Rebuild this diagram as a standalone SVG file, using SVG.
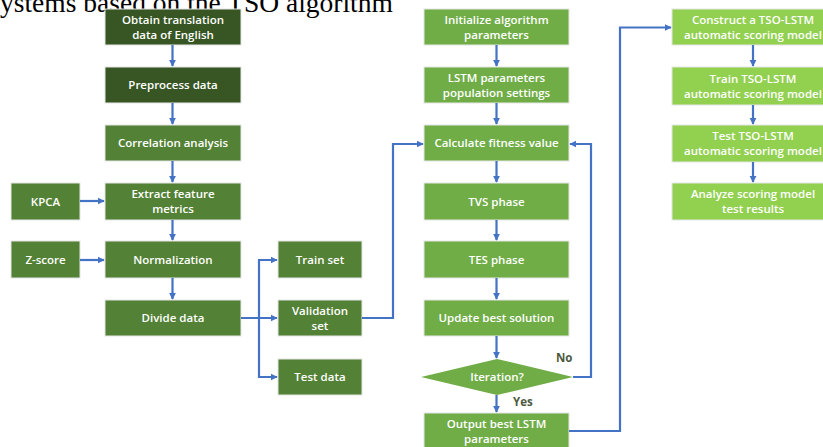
<svg xmlns="http://www.w3.org/2000/svg" width="823" height="447" viewBox="0 0 823 447">
  <defs>
    <marker id="arrow" viewBox="0 0 10 10" refX="9" refY="5" markerWidth="3.2" markerHeight="3.2" orient="auto" markerUnits="strokeWidth">
      <path d="M0,0 L10,5 L0,10 z" fill="#4472c4"/>
    </marker>
    <style>
      .box { stroke: #e6e6e6; stroke-width: 1; }
      .dark { fill: #375623; }
      .mid { fill: #538135; }
      .light { fill: #70ad47; }
      .lime { fill: #92d050; }
      .lbl { font-family: "Open Sans", "Noto Sans", sans-serif; font-size: 11.5px; font-weight: 600; fill: #ffffff; text-anchor: middle; }
      .cond { font-family: "Open Sans", "Noto Sans", sans-serif; font-size: 11.5px; font-weight: 700; fill: #4d5a40; }
      .conn { fill: none; stroke: #4472c4; stroke-width: 2.2; }
      .title { font-family: "Liberation Serif", "Times New Roman", serif; font-size: 27.5px; fill: #000000; }
    </style>
  </defs>

  <rect width="823" height="447" fill="#ffffff"/>

  <text class="title" x="-10.7" y="12">systems based on the TSO algorithm</text>

  <!-- data preparation column -->
  <g id="obtain"><rect class="box dark" x="105" y="9" width="136" height="36"/><text class="lbl" x="173" y="24">Obtain translation</text><text class="lbl" x="173" y="39">data of English</text></g>
  <g id="preprocess"><rect class="box dark" x="105" y="67" width="136" height="36"/><text class="lbl" x="173" y="89">Preprocess data</text></g>
  <g id="correlation"><rect class="box mid" x="105" y="125" width="136" height="36"/><text class="lbl" x="173" y="147">Correlation analysis</text></g>
  <g id="extract"><rect class="box mid" x="105" y="183" width="136" height="37"/><text class="lbl" x="173" y="198">Extract feature</text><text class="lbl" x="173" y="213">metrics</text></g>
  <g id="normalization"><rect class="box mid" x="105" y="241" width="136" height="37"/><text class="lbl" x="173" y="264">Normalization</text></g>
  <g id="divide"><rect class="box mid" x="105" y="300" width="136" height="36"/><text class="lbl" x="173" y="322">Divide data</text></g>
  <g id="kpca"><rect class="box mid" x="11" y="183" width="69" height="37"/><text class="lbl" x="45.5" y="206">KPCA</text></g>
  <g id="zscore"><rect class="box mid" x="11" y="241" width="69" height="37"/><text class="lbl" x="45.5" y="264">Z-score</text></g>

  <!-- data sets -->
  <g id="train-set"><rect class="box mid" x="278" y="241" width="84" height="37"/><text class="lbl" x="320" y="264">Train set</text></g>
  <g id="validation-set"><rect class="box mid" x="278" y="300" width="84" height="36"/><text class="lbl" x="320" y="315">Validation</text><text class="lbl" x="320" y="330">set</text></g>
  <g id="test-data"><rect class="box mid" x="278" y="359" width="84" height="36"/><text class="lbl" x="320" y="381">Test data</text></g>

  <!-- TSO optimisation column -->
  <g id="init"><rect class="box light" x="424" y="9" width="145" height="36"/><text class="lbl" x="496.5" y="24">Initialize algorithm</text><text class="lbl" x="496.5" y="39">parameters</text></g>
  <g id="population"><rect class="box light" x="424" y="67" width="145" height="36"/><text class="lbl" x="496.5" y="82">LSTM parameters</text><text class="lbl" x="496.5" y="97">population settings</text></g>
  <g id="fitness"><rect class="box light" x="424" y="125" width="145" height="36"/><text class="lbl" x="496.5" y="147">Calculate fitness value</text></g>
  <g id="tvs"><rect class="box light" x="424" y="183" width="145" height="37"/><text class="lbl" x="496.5" y="206">TVS phase</text></g>
  <g id="tes"><rect class="box light" x="424" y="241" width="145" height="37"/><text class="lbl" x="496.5" y="264">TES phase</text></g>
  <g id="update"><rect class="box light" x="424" y="300" width="145" height="36"/><text class="lbl" x="496.5" y="322">Update best solution</text></g>
  <g id="iteration"><polygon class="light" points="421,377 497,359 573,377 497,395"/><text class="lbl" x="497" y="381">Iteration?</text></g>
  <g id="output"><rect class="box light" x="424" y="413" width="145" height="37"/><text class="lbl" x="496.5" y="428">Output best LSTM</text><text class="lbl" x="496.5" y="443">parameters</text></g>

  <!-- scoring model column -->
  <g id="construct"><rect class="box lime" x="672" y="9" width="162" height="36"/><text class="lbl" x="753" y="24">Construct a TSO-LSTM</text><text class="lbl" x="753" y="39">automatic scoring model</text></g>
  <g id="train-model"><rect class="box lime" x="672" y="67" width="162" height="38"/><text class="lbl" x="753" y="83">Train TSO-LSTM</text><text class="lbl" x="753" y="98">automatic scoring model</text></g>
  <g id="test-model"><rect class="box lime" x="672" y="125" width="162" height="37"/><text class="lbl" x="753" y="140">Test TSO-LSTM</text><text class="lbl" x="753" y="155">automatic scoring model</text></g>
  <g id="analyze"><rect class="box lime" x="672" y="183" width="162" height="37"/><text class="lbl" x="753" y="198">Analyze scoring model</text><text class="lbl" x="753" y="213">test results</text></g>

  <!-- connectors -->
  <g id="connectors">
    <path class="conn" d="M172.5,45 V66" marker-end="url(#arrow)"/>
    <path class="conn" d="M172.5,103 V124" marker-end="url(#arrow)"/>
    <path class="conn" d="M172.5,161 V182" marker-end="url(#arrow)"/>
    <path class="conn" d="M172.5,220 V240" marker-end="url(#arrow)"/>
    <path class="conn" d="M172.5,278 V299" marker-end="url(#arrow)"/>
    <path class="conn" d="M80,201 H104" marker-end="url(#arrow)"/>
    <path class="conn" d="M80,260 H104" marker-end="url(#arrow)"/>
    <path class="conn" d="M241,318 H277" marker-end="url(#arrow)"/>
    <path class="conn" d="M259,318 V260 H277" marker-end="url(#arrow)"/>
    <path class="conn" d="M259,318 V377 H277" marker-end="url(#arrow)"/>
    <path class="conn" d="M362,318 H393 V144 H423" marker-end="url(#arrow)"/>
    <path class="conn" d="M496.5,45 V66" marker-end="url(#arrow)"/>
    <path class="conn" d="M496.5,103 V124" marker-end="url(#arrow)"/>
    <path class="conn" d="M496.5,161 V182" marker-end="url(#arrow)"/>
    <path class="conn" d="M496.5,220 V240" marker-end="url(#arrow)"/>
    <path class="conn" d="M496.5,278 V299" marker-end="url(#arrow)"/>
    <path class="conn" d="M496.5,336 V358" marker-end="url(#arrow)"/>
    <path class="conn" d="M496.5,395 V412" marker-end="url(#arrow)"/>
    <path class="conn" d="M573,377 H591 V144 H570" marker-end="url(#arrow)"/>
    <path class="conn" d="M569,431 H620 V27.5 H671" marker-end="url(#arrow)"/>
    <path class="conn" d="M753,45 V66" marker-end="url(#arrow)"/>
    <path class="conn" d="M753,105 V124" marker-end="url(#arrow)"/>
    <path class="conn" d="M753,162 V182" marker-end="url(#arrow)"/>
  </g>

  <text class="cond" x="556" y="362">No</text>
  <text class="cond" x="513" y="406">Yes</text>
</svg>
